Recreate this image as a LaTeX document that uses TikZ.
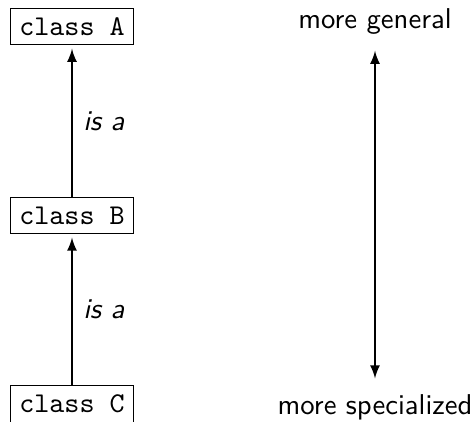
\documentclass[tikz,border=0pt]{standalone}
\usetikzlibrary{arrows}
\begin{document}
\begin{tikzpicture}[x=0.349pt,y=-0.349pt,>=latex,
  cls/.style={draw,font=\ttfamily,inner sep=3.2pt},
  lbl/.style={font=\sffamily},
  isa/.style={font=\sffamily\itshape},
  conn/.style={->,line width=0.6pt,shorten >=1.2pt}]
\useasboundingbox (0,0) rectangle (476,421);
\node[cls] (A) at (72,26.5) {class A};
\node[cls] (B) at (72,215.5) {class B};
\node[cls] (C) at (72,404) {class C};
\draw[conn] (B.north) -- node[isa,right=0.3pt] {is a} (A.south);
\draw[conn] (C.north) -- node[isa,right=0.3pt] {is a} (B.south);
\node[lbl] (G) at (375,22) {more general};
\node[lbl] (S) at (375,407) {more specialized};
\draw[<->,line width=0.6pt,shorten >=2pt,shorten <=2pt] (G.south) -- (S.north);
\end{tikzpicture}
\end{document}
